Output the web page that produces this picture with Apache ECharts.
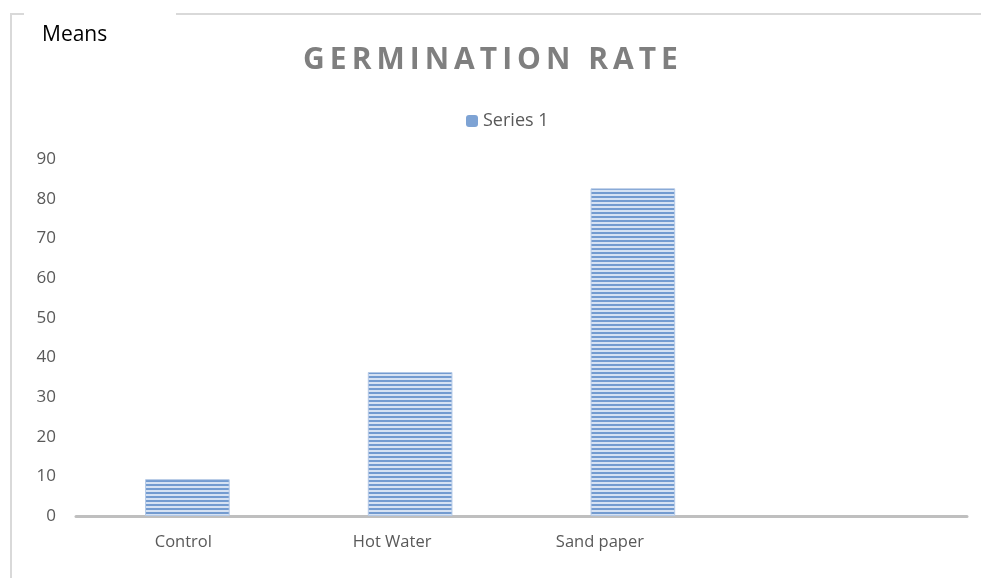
<!DOCTYPE html>
<html>
<head>
    <meta charset="utf-8">
    <script src="https://cdn.jsdelivr.net/npm/echarts@6.0.0/dist/echarts.min.js"></script>
    <style>
        * { margin: 0; padding: 0; box-sizing: border-box; }
        body { background: #fff; }
        #chart { width: 981px; height: 578px; }
    </style>
</head>
<body>
    <div id="chart"></div>
    <script>
        // chart data
        const categories = ['Control', 'Hot Water', 'Sand paper', ''];
        const seriesValues = [9.3, 36.3, 82.6, null];
        const yTicks = [0, 90, 10]; // min, max, step

        // spaced-out title like the original (six-per-em spaces)
        const titleText = 'GERMINATION RATE'.split(' ')
            .map(w => w.split('').join('\u2006')).join('\u2006 \u2006');

        // horizontal stripe fill like the original
        const stripe = document.createElement('canvas');
        stripe.width = 4;
        stripe.height = 4;
        const ctx = stripe.getContext('2d');
        ctx.fillStyle = '#d6e2f3';
        ctx.fillRect(0, 0, 4, 4);
        ctx.fillStyle = '#739bd0';
        ctx.fillRect(0, 0, 4, 2);

        // label shifts, the original labels sit left of the bars
        const labelPad = [8, 36, 66, 0];
        const lblStyle = (p) => ({ fontSize: 16.5, color: '#595959', padding: [0, p, 0, 0] });

        const chart = echarts.init(document.getElementById('chart'));
        chart.setOption({
            animation: false,
            textStyle: { fontFamily: 'Open Sans, Noto Sans, sans-serif' },
            title: {
                text: titleText,
                left: 'center',
                top: 40,
                textStyle: {
                    fontSize: 30,
                    fontWeight: 'bold',
                    color: '#7f7f7f',
                    fontFamily: 'Open Sans, sans-serif'
                }
            },
            legend: {
                data: [{ name: 'Series 1', itemStyle: { color: '#7ea3d4', borderWidth: 0 } }],
                top: 107,
                left: 461,
                itemWidth: 12,
                itemHeight: 12,
                itemGap: 5,
                textStyle: { fontSize: 18, color: '#595959' }
            },
            grid: { left: 76, right: 14, top: 159, bottom: 62 },
            xAxis: {
                type: 'category',
                data: categories,
                axisLine: { lineStyle: { color: '#bfbfbf', width: 3 } },
                axisTick: { show: false },
                axisLabel: {
                    margin: 18,
                    interval: 0,
                    fontSize: 16.5,
                    color: '#595959',
                    formatter: (v, i) => v ? '{c' + i + '|' + v + '}' : '',
                    rich: {
                        c0: lblStyle(labelPad[0]),
                        c1: lblStyle(labelPad[1]),
                        c2: lblStyle(labelPad[2])
                    }
                }
            },
            yAxis: {
                type: 'value',
                min: yTicks[0],
                max: yTicks[1],
                interval: yTicks[2],
                axisLine: { show: false },
                axisTick: { show: false },
                splitLine: { show: false },
                axisLabel: { fontSize: 17, color: '#595959', margin: 20 }
            },
            graphic: [
                {
                    type: 'polyline',
                    shape: { points: [[11, 578], [11, 14], [24, 14]] },
                    style: { stroke: '#d9d9d9', lineWidth: 2, fill: null }
                },
                {
                    type: 'line',
                    shape: { x1: 176, y1: 14, x2: 981, y2: 14 },
                    style: { stroke: '#d9d9d9', lineWidth: 2 }
                },
                {
                    type: 'text',
                    left: 42,
                    top: 25,
                    style: { text: 'Means', fontSize: 21, fill: '#000', fontFamily: 'Open Sans, sans-serif' }
                }
            ],
            series: [{
                name: 'Series 1',
                type: 'bar',
                data: seriesValues,
                barWidth: '38%',
                itemStyle: {
                    color: { image: stripe, repeat: 'repeat' },
                    borderColor: '#b4c9e6',
                    borderWidth: 1
                }
            }]
        });
    </script>
</body>
</html>
